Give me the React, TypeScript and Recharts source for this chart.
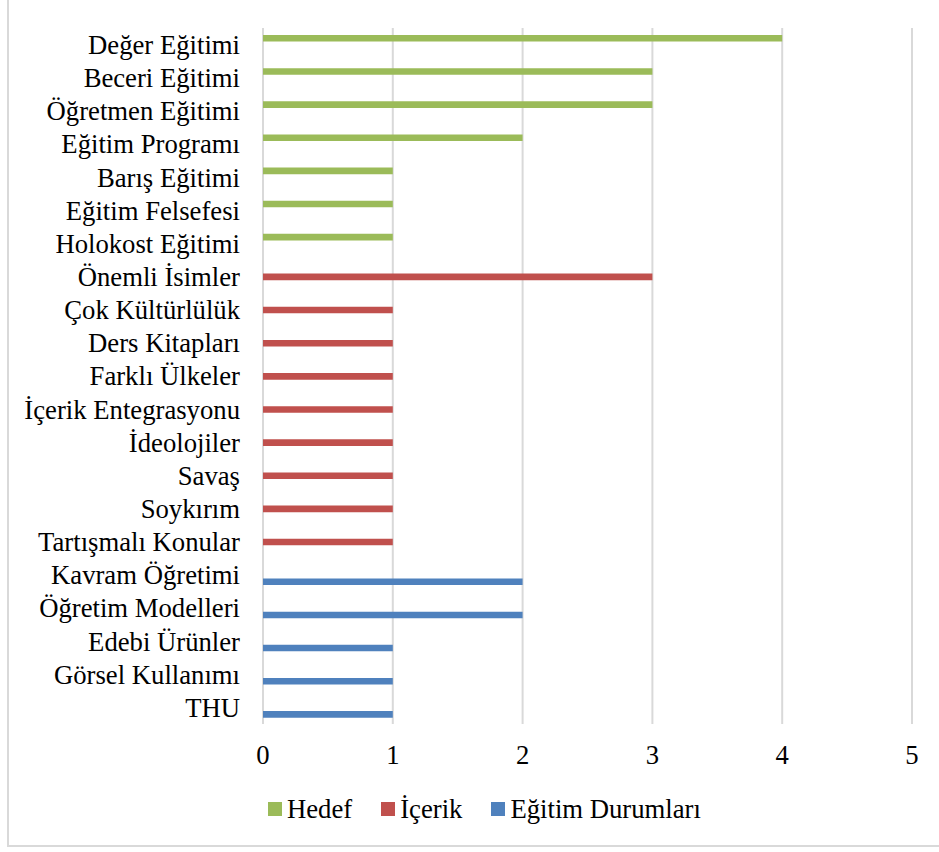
import React from "react";
import { BarChart, Bar, XAxis, YAxis, CartesianGrid } from "recharts";

const categories = [
  "Değer Eğitimi",
  "Beceri Eğitimi",
  "Öğretmen Eğitimi",
  "Eğitim Programı",
  "Barış Eğitimi",
  "Eğitim Felsefesi",
  "Holokost Eğitimi",
  "Önemli İsimler",
  "Çok Kültürlülük",
  "Ders Kitapları",
  "Farklı Ülkeler",
  "İçerik Entegrasyonu",
  "İdeolojiler",
  "Savaş",
  "Soykırım",
  "Tartışmalı Konular",
  "Kavram Öğretimi",
  "Öğretim Modelleri",
  "Edebi Ürünler",
  "Görsel Kullanımı",
  "THU",
];

const hedef = [4, 3, 3, 2, 1, 1, 1, null, null, null, null, null, null, null, null, null, null, null, null, null, null];
const icerik = [null, null, null, null, null, null, null, 3, 1, 1, 1, 1, 1, 1, 1, 1, null, null, null, null, null];
const egitimDurumlari = [null, null, null, null, null, null, null, null, null, null, null, null, null, null, null, null, 2, 2, 1, 1, 1];

const xTicks = [0, 1, 2, 3, 4, 5];

const series = [
  { key: "hedef", name: "Hedef", color: "#9BBB59" },
  { key: "icerik", name: "İçerik", color: "#C0504D" },
  { key: "egitim", name: "Eğitim Durumları", color: "#4F81BD" },
];

const FONT = "Liberation Serif, DejaVu Serif, serif";
const FONT_SIZE = 26.7;

export default function App() {
  const data = categories.map((name, i) => ({
    name,
    hedef: hedef[i],
    icerik: icerik[i],
    egitim: egitimDurumlari[i],
  }));

  const tickStyle = { fill: "#000", fontSize: FONT_SIZE, fontFamily: FONT };

  return (
    <div
      style={{
        position: "absolute",
        left: 0,
        top: 0,
        width: 939,
        height: 852,
        overflow: "hidden",
        background: "#fff",
        fontFamily: FONT,
      }}
    >
      {/* only the left and bottom edge of the chart frame are in the picture */}
      <div
        style={{
          position: "absolute",
          left: 7,
          top: -10,
          width: 1000,
          height: 857,
          borderLeft: "2px solid #d9d9d9",
          borderBottom: "2px solid #d9d9d9",
          boxSizing: "border-box",
        }}
      />
      <BarChart
        width={939}
        height={852}
        data={data}
        layout="vertical"
        margin={{ top: 28, right: 27, bottom: 68, left: 0 }}
        barGap={0}
        style={{ position: "absolute", left: 0, top: 0 }}
      >
        <CartesianGrid horizontal={false} stroke="#d9d9d9" strokeWidth={2} />
        <XAxis
          type="number"
          domain={[0, 5]}
          ticks={xTicks}
          axisLine={false}
          tickLine={false}
          tickMargin={15}
          height={60}
          tick={tickStyle}
        />
        <YAxis
          type="category"
          dataKey="name"
          width={263}
          axisLine={false}
          tickLine={false}
          tickMargin={17}
          interval={0}
          tick={tickStyle}
        />
        {series.map((s) => (
          <Bar
            key={s.key}
            dataKey={s.key}
            name={s.name}
            fill={s.color}
            barSize={6.6}
            isAnimationActive={false}
          />
        ))}
      </BarChart>
      <div
        style={{
          position: "absolute",
          left: 268,
          top: 796,
          display: "flex",
          alignItems: "center",
          gap: 29,
          fontSize: FONT_SIZE,
          lineHeight: "26px",
          color: "#000",
          whiteSpace: "nowrap",
        }}
      >
        {series.map((s) => (
          <div key={s.key} style={{ display: "flex", alignItems: "center" }}>
            <span
              style={{
                display: "inline-block",
                width: 14,
                height: 14,
                background: s.color,
                marginRight: 5,
              }}
            />
            <span>{s.name}</span>
          </div>
        ))}
      </div>
    </div>
  );
}
